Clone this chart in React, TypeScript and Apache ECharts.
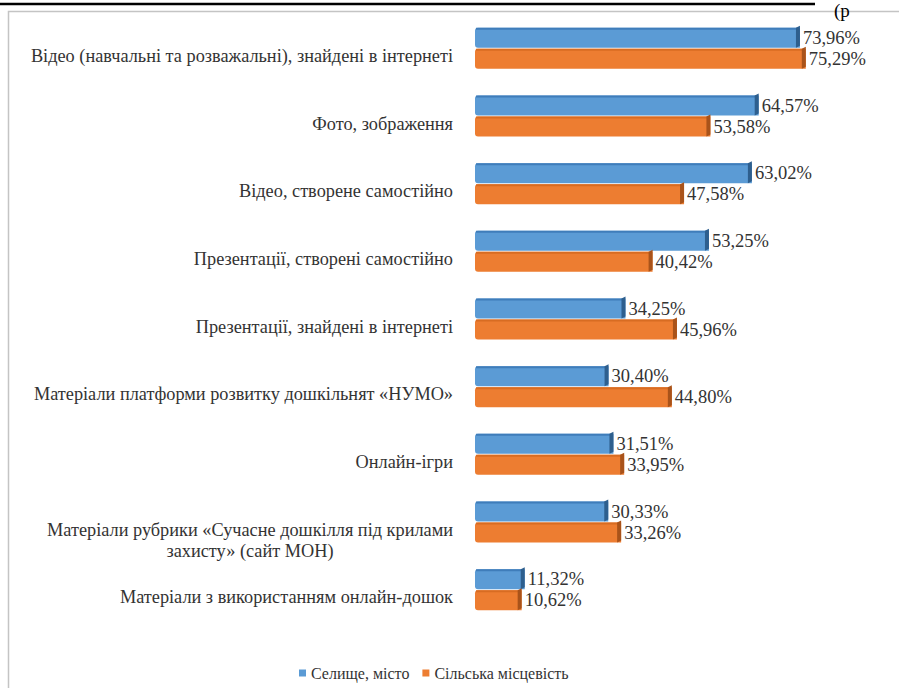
import React, { useEffect, useRef } from "react";
import * as echarts from "echarts";

const categories = [
  "Відео (навчальні та розважальні), знайдені в інтернеті",
  "Фото, зображення",
  "Відео, створене самостійно",
  "Презентації, створені самостійно",
  "Презентації, знайдені в інтернеті",
  "Матеріали платформи розвитку дошкільнят «НУМО»",
  "Онлайн-ігри",
  "Матеріали рубрики «Сучасне дошкілля під крилами\nзахисту» (сайт МОН)",
  "Матеріали з використанням онлайн-дошок",
];
const seriesNames = ["Селище, місто", "Сільська місцевість"];
const townValues = [73.96, 64.57, 63.02, 53.25, 34.25, 30.4, 31.51, 30.33, 11.32];
const ruralValues = [75.29, 53.58, 47.58, 40.42, 45.96, 44.8, 33.95, 33.26, 10.62];

const FONT = "Liberation Serif";
const TEXT = "#333333";
const BLUE = "#5B9BD5";
const BLUE_DARK = "#2E5F8E";
const BLUE_TOP = "#3F7DBA";
const ORANGE = "#ED7D31";
const ORANGE_DARK = "#A9531A";
const ORANGE_TOP = "#D86C22";

const fmt = (v: number) => v.toFixed(2).replace(".", ",") + "%";

function makeRender(which: number, main: string, dark: string, top: string) {
  return (params: any, api: any) => {
    const val = api.value(0);
    const cat = api.value(1);
    const start = api.coord([0, cat]);
    const end = api.coord([val, cat]);
    const h = 20;
    const yTop = which === 0 ? start[1] - h - 1 : start[1];
    const w = end[0] - start[0];
    return {
      type: "group",
      children: [
        {
          type: "rect",
          shape: { x: start[0], y: yTop, width: w, height: h, r: [3, 0, 0, 3] },
          style: { fill: main },
        },
        {
          type: "rect",
          shape: { x: start[0] + 1, y: yTop, width: Math.max(w - 4, 0), height: 2 },
          style: { fill: top },
        },
        {
          type: "polygon",
          shape: {
            points: [
              [end[0] - 4, yTop],
              [end[0], yTop - 2],
              [end[0], yTop + h - 2],
              [end[0] - 4, yTop + h],
            ],
          },
          style: { fill: dark },
        },
        {
          type: "text",
          x: end[0] + 3,
          y: yTop + h / 2,
          style: {
            text: fmt(val),
            fill: TEXT,
            fontSize: 18.5,
            fontFamily: FONT,
            align: "left",
            verticalAlign: "middle",
          },
        },
      ],
    };
  };
}

export default function App() {
  const ref = useRef<HTMLDivElement>(null);
  useEffect(() => {
    if (!ref.current) return;
    const chart = echarts.init(ref.current, undefined, { renderer: "svg" });
    chart.setOption({
      animation: false,
      backgroundColor: "#ffffff",
      textStyle: { fontFamily: FONT },
      grid: { left: 475, right: 72.5, top: 15, bottom: 64 },
      xAxis: {
        type: "value",
        min: 0,
        max: 80,
        show: false,
      },
      yAxis: {
        type: "category",
        inverse: true,
        data: categories,
        axisLine: { show: false },
        axisTick: { show: false },
        splitLine: { show: false },
        axisLabel: {
          margin: 22,
          color: TEXT,
          fontSize: 18.3,
          fontFamily: FONT,
          lineHeight: 21,
          padding: [14, 0, 0, 0],
          formatter: (v: string) => {
            if (v.indexOf("\n") >= 0) {
              const parts = v.split("\n");
              return "\n" + parts.map((p) => "{c|" + p + "}").join("\n");
            }
            return v;
          },
          rich: {
            c: {
              align: "center",
              color: TEXT,
              fontSize: 18.3,
              fontFamily: FONT,
              lineHeight: 21,
            },
          },
        },
      },
      legend: {
        data: seriesNames,
        left: 294,
        top: 660,
        icon: "rect",
        itemWidth: 7,
        itemHeight: 7,
        itemGap: 13,
        textStyle: { color: TEXT, fontSize: 16, fontFamily: FONT },
      },
      graphic: [
        {
          type: "rect",
          shape: { x: 8.5, y: 11.5, width: 1000, height: 1000 },
          style: { fill: "none", stroke: "#c4c4c4", lineWidth: 1.5 },
          silent: true,
        },
        {
          type: "line",
          shape: { x1: 0, y1: 4, x2: 815, y2: 4 },
          style: { stroke: "#000000", lineWidth: 2.5 },
          silent: true,
        },
        {
          type: "text",
          x: 834,
          y: 1,
          style: { text: "(р", fill: "#000000", fontSize: 19, fontFamily: FONT, verticalAlign: "top" },
          silent: true,
        },
      ],
      series: [
        {
          name: seriesNames[0],
          type: "custom",
          renderItem: makeRender(0, BLUE, BLUE_DARK, BLUE_TOP),
          encode: { x: 0, y: 1 },
          itemStyle: { color: BLUE },
          data: townValues.map((v, i) => [v, i]),
        },
        {
          name: seriesNames[1],
          type: "custom",
          renderItem: makeRender(1, ORANGE, ORANGE_DARK, ORANGE_TOP),
          encode: { x: 0, y: 1 },
          itemStyle: { color: ORANGE },
          data: ruralValues.map((v, i) => [v, i]),
        },
      ],
    });
    return () => chart.dispose();
  }, []);
  return (
    <div
      ref={ref}
      style={{ position: "fixed", left: 0, top: 0, width: 899, height: 688 }}
    />
  );
}
